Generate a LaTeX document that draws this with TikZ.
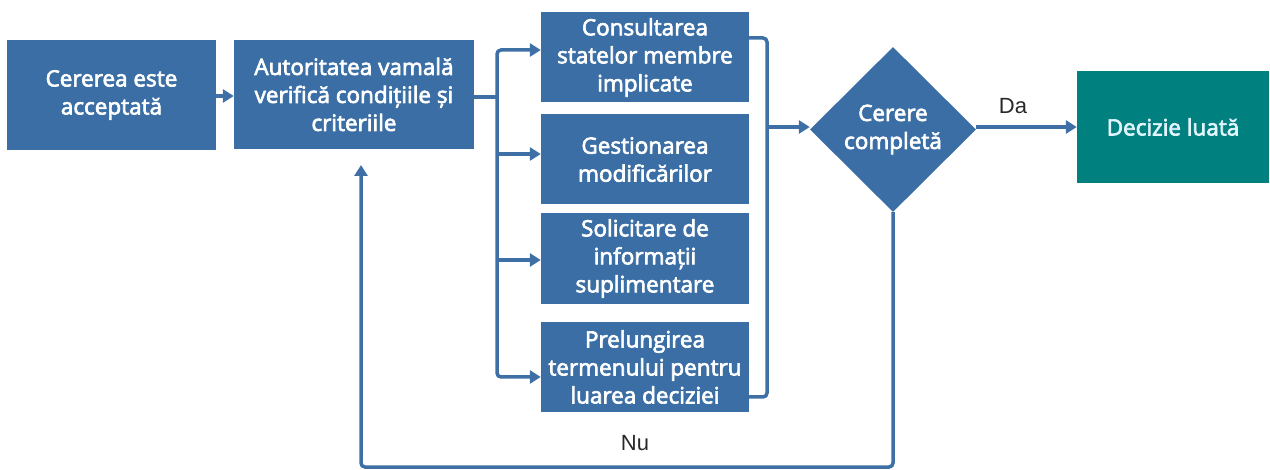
\documentclass[tikz,border=0pt]{standalone}
\usepackage{fontspec}
\setmainfont{Open Sans}
\newfontfamily\boxfont{Open Sans}[FakeBold=3]
\newfontfamily\labfont{Liberation Sans}
\usetikzlibrary{shapes.geometric,arrows.meta}
\definecolor{boxblue}{RGB}{58,110,165}
\definecolor{lineblue}{RGB}{62,112,166}
\definecolor{tealbox}{RGB}{0,128,126}
\definecolor{labgray}{RGB}{40,40,40}
\tikzset{
  boxtext/.style={text=white, inner sep=0pt, align=center,
    font=\boxfont\fontsize{22.5}{28}\selectfont},
  stepbox/.style={boxtext, fill=boxblue},
  decisionbox/.style={boxtext, diamond, fill=boxblue},
  donebox/.style={boxtext, fill=tealbox, text=white!88!cyan},
  conn/.style={draw=lineblue, line width=3.5pt, rounded corners=4pt},
  arr/.style={conn, -{Triangle[length=11pt,width=13pt]}},
  lab/.style={text=labgray, font=\labfont\fontsize{22}{24}\selectfont}
}
\begin{document}
\begin{tikzpicture}[x=1pt,y=-1pt]
\useasboundingbox (0,0) rectangle (1270,470);
\node[stepbox, minimum width=209pt, minimum height=110pt] (b1) at (111.5,95) {Cererea este\\acceptată};
\node[stepbox, minimum width=240pt, minimum height=109pt] (b2) at (354,94.5) {Autoritatea vamală\\verifică condițiile și\\criteriile};
\node[stepbox, minimum width=208pt, minimum height=90pt] (ba) at (645,57.5) {Consultarea\\statelor membre\\implicate};
\node[stepbox, minimum width=208pt, minimum height=90pt] (bb) at (645,159.5) {Gestionarea\\modificărilor};
\node[stepbox, minimum width=208pt, minimum height=91pt] (bc) at (645,258.5) {Solicitare de\\informații\\suplimentare};
\node[stepbox, minimum width=208pt, minimum height=90pt] (bd) at (645,367) {Prelungirea\\termenului pentru\\luarea deciziei};
\node[decisionbox, minimum width=166pt, minimum height=165pt] (dec) at (893,129.5) {Cerere\\completă};
\node[donebox, minimum width=192pt, minimum height=112pt] (done) at (1173,127) {Decizie luată};

\coordinate (busx) at (497,97);
\coordinate (brx) at (767,127);
\coordinate (botl) at (361,467);
\coordinate (retend) at (361,165);

\draw[arr] (b1.east |- 0,96) -- (b2.west |- 0,96);
% fan-out bus
\draw[conn] (b2.east |- busx) -- (busx);
\draw[arr] (busx) |- (ba.west |- 0,50);
\draw[arr] (busx |- 0,154) -- (bb.west |- 0,154);
\draw[arr] (busx |- 0,260) -- (bc.west |- 0,260);
\draw[arr] (busx) |- (bd.west |- 0,377);
% bracket on the right
\draw[conn] (ba.east |- 0,38) -| (brx |- 0,397) -- (bd.east |- 0,397);
\draw[arr] (brx) -- (dec.west |- brx);
% yes
\draw[arr] (dec.east |- done.west) -- (done.west);
\node[lab] (da) at (1013,106) {Da};
% no
\draw[arr] (dec.south) |- (botl) -- (retend);
\node[lab] (nu) at (635,443) {Nu};
\end{tikzpicture}
\end{document}
